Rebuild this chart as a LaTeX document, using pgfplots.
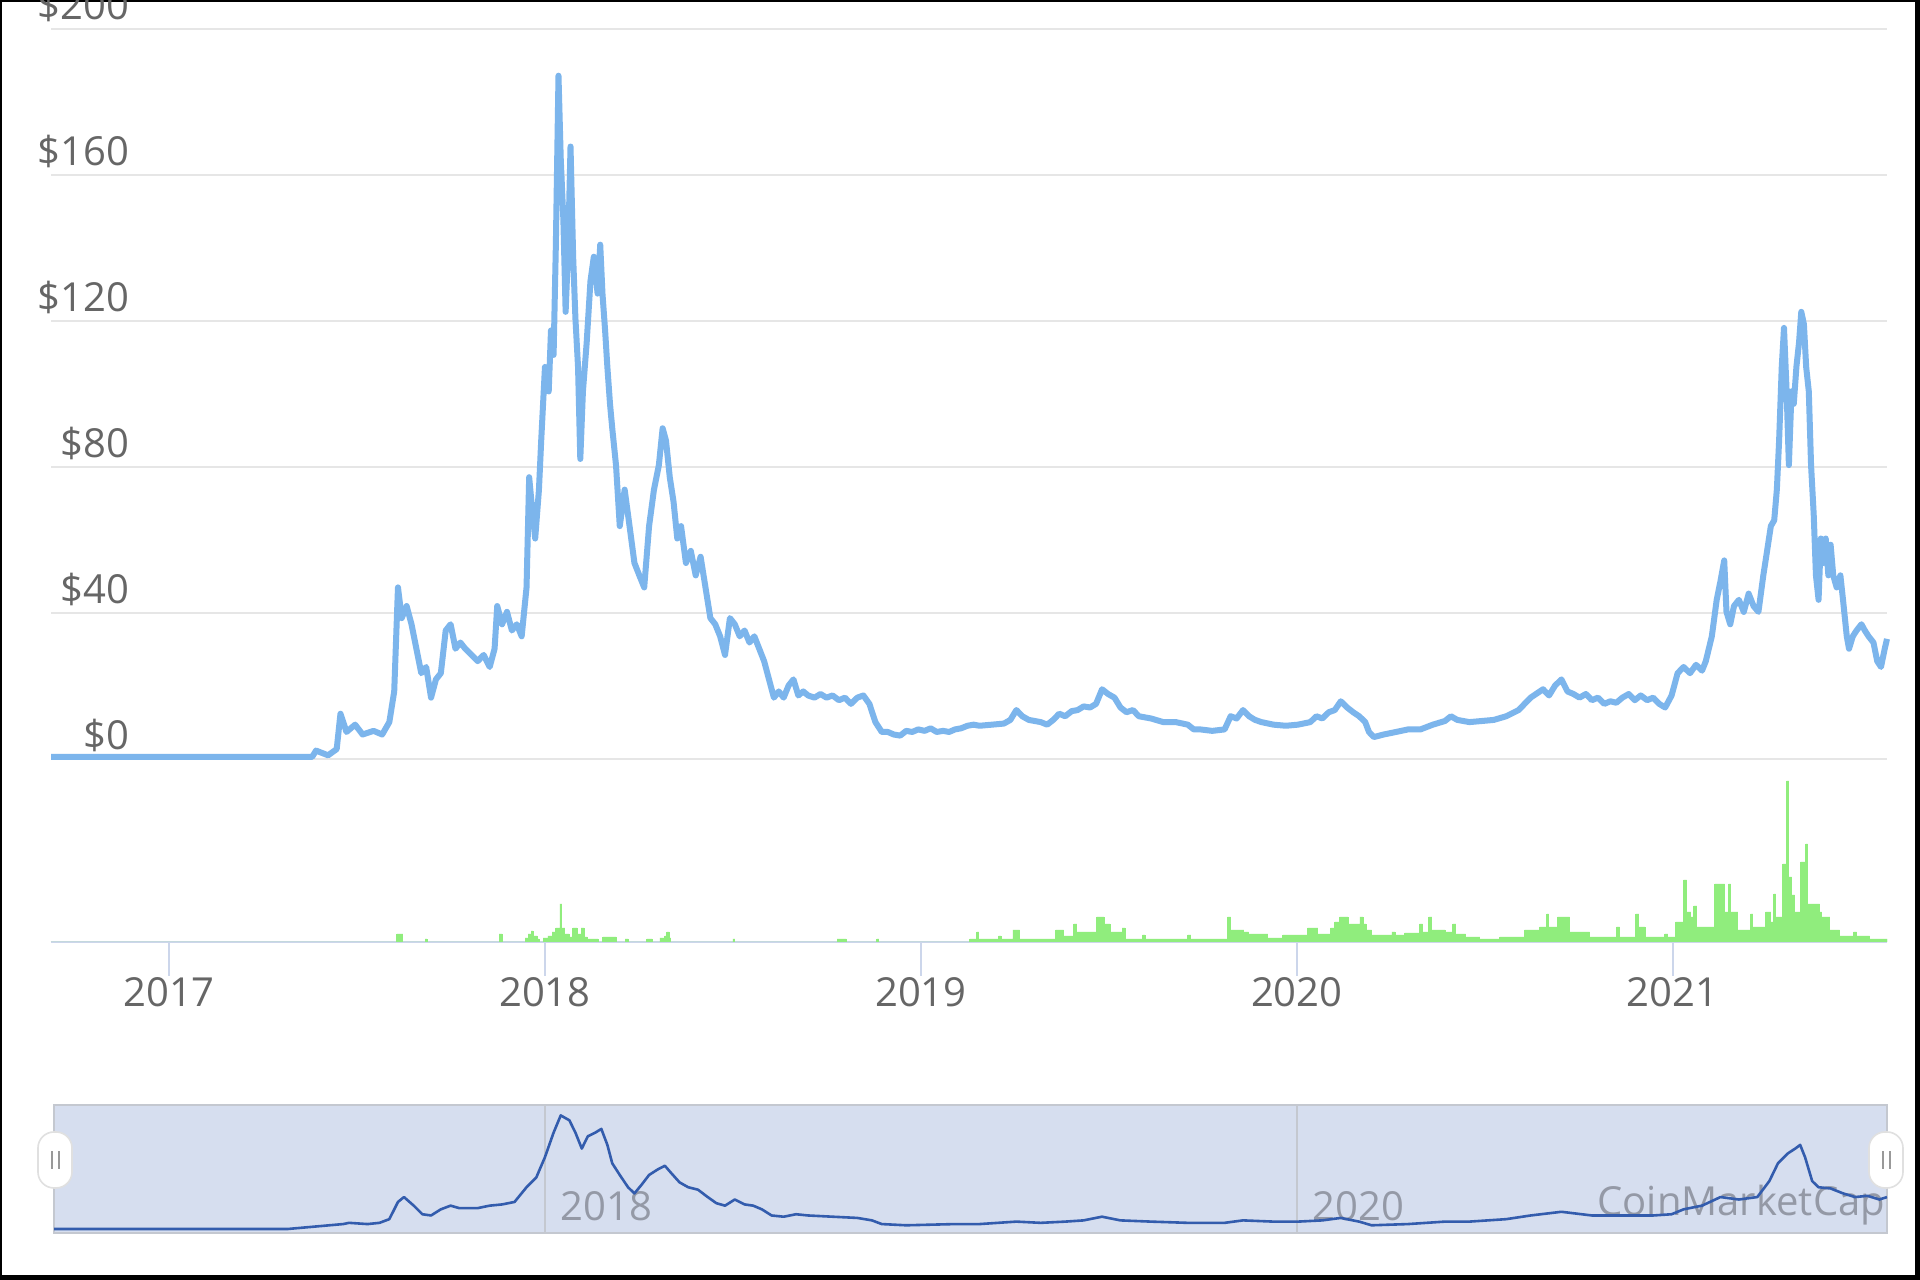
\documentclass[border=0pt]{standalone}
\usepackage{fontspec}
\setmainfont{Open Sans}
\usepackage{pgfplots}
\pgfplotsset{compat=1.18}
\definecolor{price}{HTML}{7CB5EC}
\definecolor{vol}{HTML}{90ED7D}
\definecolor{gridc}{HTML}{E6E6E6}
\definecolor{axc}{HTML}{CCD6EB}
\definecolor{lab}{HTML}{666666}
\definecolor{navfill}{HTML}{D6DEEF}
\definecolor{navline}{HTML}{335CAD}
\definecolor{navborder}{HTML}{C4C8D0}
\definecolor{navlab}{HTML}{9499A6}
\newcommand{\lf}{\fontsize{10}{12}\selectfont}
\begin{document}
\begin{tikzpicture}[x=1pt,y=1pt]
\useasboundingbox (0,0) rectangle (480,320);
\fill[black] (0,0) rectangle (480,320);
\fill[white] (0.5,1.25) rectangle (478.75,319.6);

% price
\begin{axis}[at={(12.75pt,130.25pt)}, anchor=south west, scale only axis,
  width=459pt, height=182.5pt, xmin=2016.686, xmax=2021.570, ymin=0, ymax=200,
  clip=false, axis line style={draw=none}, major tick length=0pt,
  xtick=\empty, ytick={0,40,80,120,160,200},
  yticklabels={\$0,\$40,\$80,\$120,\$160,\$200},
  ymajorgrids, grid style={gridc, line width=0.5pt},
  /pgf/number format/assume math mode=true,
  yticklabel style={anchor=base east, inner sep=0pt, xshift=19.75pt, yshift=2.3pt, font=\lf, text=lab}]
\addplot[price, line width=1.5pt, line join=round] coordinates {
(2016.686,0.6) (2017.381,0.6) (2017.391,2.3) (2017.423,1.0) (2017.446,2.7) (2017.456,12.4) (2017.472,7.4) (2017.495,9.4) (2017.515,6.7) (2017.544,7.7) (2017.567,6.7) (2017.586,10.1) (2017.599,18.5) (2017.609,47.0) (2017.619,38.6) (2017.632,41.9) (2017.645,36.9) (2017.658,30.2) (2017.671,23.5) (2017.684,25.2) (2017.697,16.8) (2017.710,21.8) (2017.723,23.5) (2017.736,35.2) (2017.749,36.9) (2017.762,30.2) (2017.775,31.9) (2017.788,30.2) (2017.805,28.5) (2017.821,26.8) (2017.837,28.5) (2017.853,25.2) (2017.866,30.2) (2017.873,41.9) (2017.886,36.9) (2017.899,40.3) (2017.912,35.2) (2017.925,36.9) (2017.938,33.6) (2017.951,47.0) (2017.958,77.2) (2017.964,70.5) (2017.974,60.4) (2017.984,73.8) (2017.990,87.2) (2018.000,107.4) (2018.010,100.7) (2018.016,117.4) (2018.023,110.7) (2018.029,140.9) (2018.036,187.2) (2018.042,164.4) (2018.049,147.7) (2018.055,122.5) (2018.062,140.9) (2018.068,167.8) (2018.075,137.6) (2018.081,120.8) (2018.088,107.4) (2018.094,82.2) (2018.101,100.7) (2018.111,114.1) (2018.121,130.9) (2018.130,137.6) (2018.140,127.5) (2018.147,140.9) (2018.153,127.5) (2018.160,117.4) (2018.166,107.4) (2018.173,97.3) (2018.179,90.6) (2018.189,80.5) (2018.199,63.8) (2018.212,73.8) (2018.225,63.8) (2018.238,53.7) (2018.251,50.3) (2018.264,47.0) (2018.277,63.8) (2018.290,73.8) (2018.303,80.5) (2018.313,90.6) (2018.322,87.2) (2018.332,77.2) (2018.342,70.5) (2018.352,60.4) (2018.362,63.8) (2018.375,53.7) (2018.388,57.0) (2018.401,50.3) (2018.414,55.4) (2018.427,47.0) (2018.440,38.6) (2018.453,36.9) (2018.466,33.6) (2018.479,28.5) (2018.492,38.6) (2018.505,36.9) (2018.518,33.6) (2018.531,35.2) (2018.544,31.9) (2018.557,33.6) (2018.570,30.2) (2018.583,26.8) (2018.596,21.8) (2018.609,16.8) (2018.622,18.5) (2018.635,16.8) (2018.648,20.1) (2018.661,21.8) (2018.674,17.4) (2018.687,18.5) (2018.700,17.4) (2018.717,16.8) (2018.733,17.8) (2018.749,16.8) (2018.765,17.4) (2018.782,16.1) (2018.798,16.8) (2018.814,15.1) (2018.831,16.8) (2018.847,17.4) (2018.863,15.1) (2018.879,10.1) (2018.896,7.4) (2018.912,7.4) (2018.928,6.7) (2018.945,6.4) (2018.961,7.7) (2018.977,7.4) (2018.993,8.1) (2019.010,7.7) (2019.026,8.4) (2019.042,7.4) (2019.059,7.7) (2019.075,7.4) (2019.091,8.1) (2019.107,8.4) (2019.124,9.1) (2019.140,9.4) (2019.156,9.1) (2019.189,9.4) (2019.221,9.7) (2019.238,10.7) (2019.254,13.4) (2019.270,11.7) (2019.287,10.7) (2019.319,10.1) (2019.336,9.4) (2019.352,10.7) (2019.368,12.4) (2019.384,11.7) (2019.401,13.1) (2019.417,13.4) (2019.433,14.4) (2019.450,14.1) (2019.466,15.1) (2019.482,19.1) (2019.498,17.8) (2019.515,16.8) (2019.531,14.1) (2019.547,12.8) (2019.564,13.4) (2019.580,11.7) (2019.612,11.1) (2019.645,10.1) (2019.678,10.1) (2019.710,9.4) (2019.726,8.1) (2019.743,8.1) (2019.775,7.7) (2019.808,8.1) (2019.824,11.7) (2019.840,11.1) (2019.857,13.4) (2019.873,11.7) (2019.889,10.7) (2019.906,10.1) (2019.938,9.4) (2019.971,9.1) (2020.003,9.4) (2020.036,10.1) (2020.052,11.7) (2020.068,11.1) (2020.085,12.8) (2020.101,13.4) (2020.117,15.8) (2020.134,14.1) (2020.150,12.8) (2020.166,11.7) (2020.182,10.1) (2020.192,7.4) (2020.205,6.0) (2020.231,6.7) (2020.264,7.4) (2020.296,8.1) (2020.329,8.1) (2020.362,9.4) (2020.394,10.4) (2020.410,11.7) (2020.427,10.7) (2020.459,10.1) (2020.492,10.4) (2020.524,10.7) (2020.557,11.7) (2020.590,13.4) (2020.622,16.8) (2020.655,19.1) (2020.671,17.4) (2020.687,20.1) (2020.704,21.8) (2020.720,18.5) (2020.736,17.8) (2020.752,16.8) (2020.769,17.8) (2020.785,16.1) (2020.801,16.8) (2020.818,15.1) (2020.834,15.8) (2020.850,15.4) (2020.866,16.8) (2020.883,17.8) (2020.899,16.1) (2020.915,17.4) (2020.932,16.1) (2020.948,16.8) (2020.964,15.1) (2020.980,14.1) (2020.997,17.4) (2021.013,23.5) (2021.029,25.2) (2021.046,23.5) (2021.062,25.8) (2021.078,24.2) (2021.088,26.8) (2021.104,33.6) (2021.117,43.6) (2021.127,48.7) (2021.137,54.4) (2021.143,40.3) (2021.153,36.9) (2021.163,41.9) (2021.176,43.6) (2021.189,40.3) (2021.202,45.3) (2021.215,41.9) (2021.228,40.3) (2021.241,50.3) (2021.251,57.0) (2021.261,63.8) (2021.270,65.4) (2021.277,73.8) (2021.283,87.2) (2021.290,107.4) (2021.296,118.1) (2021.303,100.7) (2021.309,80.5) (2021.316,100.7) (2021.322,97.3) (2021.329,107.4) (2021.336,114.1) (2021.342,122.5) (2021.349,119.1) (2021.355,107.4) (2021.362,100.7) (2021.368,80.5) (2021.375,67.1) (2021.381,50.3) (2021.388,43.6) (2021.394,60.4) (2021.401,53.7) (2021.407,60.4) (2021.414,50.3) (2021.420,58.7) (2021.427,50.3) (2021.436,47.0) (2021.446,50.3) (2021.453,43.6) (2021.463,33.6) (2021.469,30.2) (2021.479,33.6) (2021.489,35.2) (2021.502,36.9) (2021.511,35.2) (2021.521,33.6) (2021.534,31.9) (2021.544,26.8) (2021.554,25.2) (2021.564,30.2) (2021.570,32.9)
};
\end{axis}

% volume
\begin{axis}[at={(12.75pt,84.5pt)}, anchor=south west, scale only axis,
  width=459pt, height=45pt, xmin=2016.686, xmax=2021.570, ymin=0, ymax=180,
  axis x line=bottom, axis y line=none,
  axis line style={axc, line width=0.5pt, -},
  xtick={2017,2018,2019,2020,2021}, xticklabels={2017,2018,2019,2020,2021},
  tick style={axc, line width=0.5pt}, major tick length=8.5pt, tick align=outside,
  /pgf/number format/assume math mode=true,
  xticklabel style={anchor=base, inner sep=0pt, yshift=-7.6pt, font=\lf, text=lab}]
\addplot[const plot, fill=vol, draw=vol, line width=0.2pt] coordinates {
(2016.686,0) (2017.606,8) (2017.622,0) (2017.681,3) (2017.686,0) (2017.878,8) (2017.886,0) (2017.947,4) (2017.955,8) (2017.963,11) (2017.968,6) (2017.979,3) (2017.984,0) (2017.995,4) (2018.008,6) (2018.019,10) (2018.029,14) (2018.037,14) (2018.040,38) (2018.045,14) (2018.053,8) (2018.064,5) (2018.074,14) (2018.085,8) (2018.096,14) (2018.104,5) (2018.112,3) (2018.141,0) (2018.154,5) (2018.189,0) (2018.213,3) (2018.221,0) (2018.271,3) (2018.285,0) (2018.306,4) (2018.319,6) (2018.324,10) (2018.330,4) (2018.335,0) (2018.500,3) (2018.505,0) (2018.777,3) (2018.801,0) (2018.883,3) (2018.888,0) (2019.130,3) (2019.149,10) (2019.154,3) (2019.207,6) (2019.213,3) (2019.245,12) (2019.263,3) (2019.359,12) (2019.380,6) (2019.407,18) (2019.415,10) (2019.468,25) (2019.487,18) (2019.503,10) (2019.535,14) (2019.543,3) (2019.590,7) (2019.596,3) (2019.710,7) (2019.718,3) (2019.816,25) (2019.824,12) (2019.859,10) (2019.872,8) (2019.923,4) (2019.963,7) (2019.971,7) (2020.029,14) (2020.056,8) (2020.090,14) (2020.101,20) (2020.114,25) (2020.136,18) (2020.168,25) (2020.176,18) (2020.184,12) (2020.199,7) (2020.253,10) (2020.261,7) (2020.287,9) (2020.327,18) (2020.335,10) (2020.351,25) (2020.359,12) (2020.394,10) (2020.415,18) (2020.423,8) (2020.449,5) (2020.487,3) (2020.540,5) (2020.606,12) (2020.646,15) (2020.665,28) (2020.670,15) (2020.694,25) (2020.726,10) (2020.779,5) (2020.851,15) (2020.859,5) (2020.902,28) (2020.910,15) (2020.926,5) (2020.979,8) (2020.987,5) (2021.008,20) (2021.029,62) (2021.037,30) (2021.048,25) (2021.056,36) (2021.064,15) (2021.112,58) (2021.138,30) (2021.149,58) (2021.154,30) (2021.173,12) (2021.207,28) (2021.213,15) (2021.237,15) (2021.247,30) (2021.261,20) (2021.269,48) (2021.274,25) (2021.293,78) (2021.303,161) (2021.309,65) (2021.316,47) (2021.324,30) (2021.340,80) (2021.354,98) (2021.359,38) (2021.391,30) (2021.396,25) (2021.418,12) (2021.444,6) (2021.481,10) (2021.489,6) (2021.524,3) (2021.570,3)
} \closedcycle;
\end{axis}

% navigator
\begin{axis}[at={(13.5pt,11.75pt)}, anchor=south west, scale only axis,
  width=458.25pt, height=32pt, xmin=2016.694, xmax=2021.570, ymin=-6.5, ymax=202,
  axis background/.style={fill=navfill},
  axis line style={navborder, line width=0.5pt},
  ytick=\empty, xtick={2018,2020}, xticklabels={2018,2020},
  xmajorgrids, grid style={navborder, line width=0.4pt}, major tick length=0pt,
  /pgf/number format/assume math mode=true,
  xticklabel style={anchor=base west, inner sep=0pt, xshift=3.75pt, yshift=3pt, font=\lf, text=navlab}]
\node[anchor=base east, inner sep=0pt, font=\lf, text=navlab] at (rel axis cs:1,0) [yshift=4.25pt, xshift=-0.3pt] {CoinMarketCap};
\addplot[navline, line width=0.65pt, line join=round] coordinates {
(2016.694,0) (2017.316,0) (2017.463,8) (2017.479,10) (2017.528,8) (2017.560,10) (2017.586,16) (2017.609,44) (2017.625,52) (2017.651,38) (2017.674,24) (2017.697,22) (2017.723,32) (2017.749,38) (2017.772,34) (2017.821,34) (2017.853,38) (2017.886,40) (2017.919,44) (2017.951,68) (2017.977,84) (2018.000,117) (2018.023,157) (2018.042,185) (2018.065,177) (2018.081,157) (2018.098,131) (2018.114,151) (2018.134,157) (2018.150,163) (2018.166,137) (2018.179,107) (2018.199,88) (2018.221,68) (2018.238,58) (2018.257,72) (2018.277,88) (2018.300,97) (2018.319,103) (2018.336,91) (2018.358,76) (2018.381,68) (2018.407,64) (2018.433,52) (2018.456,42) (2018.479,38) (2018.505,48) (2018.531,40) (2018.554,38) (2018.577,32) (2018.603,22) (2018.635,20) (2018.668,24) (2018.700,22) (2018.765,20) (2018.831,18) (2018.870,14) (2018.896,8) (2018.961,6) (2019.091,8) (2019.156,8) (2019.254,12) (2019.319,10) (2019.384,12) (2019.433,14) (2019.482,20) (2019.531,14) (2019.612,12) (2019.710,10) (2019.808,10) (2019.857,14) (2019.938,12) (2020.003,12) (2020.068,14) (2020.117,18) (2020.166,12) (2020.199,6) (2020.296,8) (2020.394,12) (2020.459,12) (2020.557,16) (2020.622,22) (2020.704,28) (2020.785,22) (2020.883,22) (2020.948,22) (2020.997,24) (2021.029,32) (2021.078,38) (2021.127,52) (2021.176,48) (2021.225,52) (2021.257,78) (2021.280,107) (2021.306,123) (2021.326,131) (2021.339,137) (2021.352,117) (2021.371,78) (2021.388,68) (2021.420,66) (2021.453,58) (2021.485,52) (2021.518,54) (2021.550,48) (2021.570,52)
};
\end{axis}

% navigator handles
\foreach \hx in {9.5,467.25}{
  \draw[fill=white, draw=black!12, line width=0.4pt, rounded corners=4pt] (\hx,23) rectangle ++(8.5,14);
  \draw[black!40, line width=0.5pt] (\hx+3.5,27.75) -- ++(0,4.5);
  \draw[black!40, line width=0.5pt] (\hx+5.25,27.75) -- ++(0,4.5);
}
\end{tikzpicture}
\end{document}
